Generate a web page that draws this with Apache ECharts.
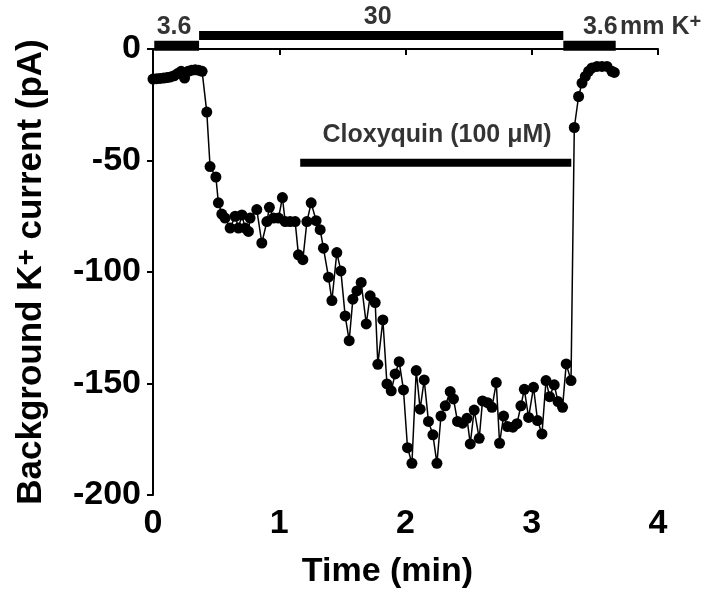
<!DOCTYPE html>
<html>
<head>
<meta charset="utf-8">
<script src="https://cdn.jsdelivr.net/npm/echarts@6/dist/echarts.min.js"></script>
<style>html,body{margin:0;padding:0;background:#fff}#c{width:709px;height:597px}</style>
</head>
<body>
<div id="c"></div>
<script>
// Time (min) and background K+ current (pA)
const timeMin = [0.000,0.029,0.056,0.084,0.112,0.139,0.167,0.195,0.223,0.250,0.278,0.306,0.334,0.361,0.389,
  0.426,0.452,0.498,0.518,0.545,0.571,0.611,0.651,0.677,0.704,0.730,0.756,0.769,0.822,0.862,0.902,0.922,0.954,0.994,
  1.025,1.047,1.086,1.126,1.152,1.187,1.219,1.253,1.292,1.324,1.350,1.390,1.417,1.456,1.488,1.522,1.554,1.583,1.615,
  1.649,1.689,1.720,1.760,1.781,1.821,1.853,1.887,1.918,1.950,1.984,2.016,2.051,2.085,2.116,2.148,2.182,2.217,2.249,
  2.281,2.315,2.354,2.380,2.412,2.452,2.487,2.513,2.544,2.584,2.610,2.650,2.685,2.719,2.745,2.777,2.808,2.851,2.883,
  2.914,2.941,2.975,3.014,3.046,3.081,3.113,3.141,3.178,3.208,3.244,3.273,3.311,3.337,3.371,3.398,3.424,3.450,3.477,
  3.517,3.556,3.596,3.635,3.654];
const currentPA = [-13.5,-13.3,-13.2,-13.0,-12.8,-12.5,-12.0,-11.0,-10.0,-13.0,-10.0,-9.5,-9.3,-9.5,-10.0,
  -28.3,-52.7,-57.4,-69.0,-74.0,-75.8,-80.3,-75.0,-80.3,-74.4,-80.3,-81.8,-75.8,-72.0,-87.0,-77.4,-71.0,-75.8,-75.8,
  -66.6,-77.4,-77.4,-77.4,-92.3,-94.5,-77.4,-69.0,-77.0,-81.0,-89.3,-102.3,-112.8,-91.3,-99.5,-119.7,-130.8,-112.2,-108.5,
  -104.7,-123.3,-110.7,-113.7,-141.4,-121.5,-150.2,-153.3,-145.7,-140.2,-152.9,-178.8,-185.8,-144.2,-161.5,-148.4,-167.0,-173.0,-185.8,
  -164.6,-160.0,-153.6,-156.9,-167.0,-167.8,-165.6,-177.1,-161.9,-174.6,-157.8,-158.6,-160.7,-149.6,-176.8,-164.6,-169.3,-169.6,-168.0,
  -160.0,-152.6,-165.2,-151.7,-166.6,-172.6,-148.7,-155.9,-150.6,-158.1,-160.7,-141.2,-148.7,-35.2,-21.3,-15.3,-12.3,-10.0,-8.5,
  -7.8,-7.8,-7.8,-10.0,-10.5];

// Solution application periods (min)
const kBarStarts = [0.01, 0.365, 3.25];
const kBarEnds   = [0.365, 3.25, 3.665];
const kBarLabels = ['3.6', '30', '3.6'];
const drugStart = 1.166, drugEnd = 3.313;
const drugLabel = 'Cloxyquin (100 \u03bcM)';

const xTickStep = 1, yTickStep = 50;

const FONT = 'Liberation Sans, Arial, sans-serif';
const chart = echarts.init(document.getElementById('c'), null, {renderer: 'canvas'});

const barLevels = [1.5, 6, 1.5];
const barWidths = [10, 9, 10];
const barSeries = kBarStarts.map((s, i) => ({
  type: 'line', clip: false, symbol: 'none', silent: true,
  data: [[s, barLevels[i]], [kBarEnds[i], barLevels[i]]],
  lineStyle: {color: '#000', width: barWidths[i], cap: 'butt'}
}));
barSeries.push({
  type: 'line', clip: false, symbol: 'none', silent: true,
  data: [[drugStart, -51], [drugEnd, -51]],
  lineStyle: {color: '#000', width: 8, cap: 'butt'}
});

const labelItems = [
  {value: [0.167, 10], name: kBarLabels[0]},
  {value: [1.78, 14.5], name: kBarLabels[1]},
  {value: [3.543, 10], name: kBarLabels[2]},
  {value: [2.25, -38.5], name: drugLabel}
];

chart.setOption({
  animation: false,
  backgroundColor: '#fff',
  grid: {left: 153, right: 51, top: 49, bottom: 102},
  xAxis: {
    type: 'value', min: 0, max: 4, interval: xTickStep,
    name: 'Time (min)', nameLocation: 'middle', nameGap: 60,
    nameTextStyle: {fontFamily: FONT, fontWeight: 'bold', fontSize: 34, color: '#000', padding: [0, 36, 0, 0]},
    axisLine: {lineStyle: {color: '#000', width: 2}},
    axisTick: {show: true, inside: false, length: 6, lineStyle: {color: '#000', width: 2}},
    axisLabel: {fontFamily: FONT, fontWeight: 'bold', fontSize: 34, color: '#000', margin: 12},
    splitLine: {show: false}
  },
  yAxis: {
    type: 'value', min: -200, max: 0, interval: yTickStep,
    name: '{a|Background K}{s|+}{a| current (pA)}', nameLocation: 'middle', nameGap: 104, nameRotate: 90,
    nameTextStyle: {
      rich: {
        a: {fontFamily: FONT, fontWeight: 'bold', fontSize: 35, color: '#000', lineHeight: 36},
        s: {fontFamily: FONT, fontWeight: 'bold', fontSize: 28, color: '#000', verticalAlign: 'top', lineHeight: 20}
      }
    },
    axisLine: {show: true, lineStyle: {color: '#000', width: 2}},
    axisTick: {show: true, inside: false, length: 6, lineStyle: {color: '#000', width: 2}},
    axisLabel: {fontFamily: FONT, fontWeight: 'bold', fontSize: 34, color: '#000', margin: 12},
    splitLine: {show: false}
  },
  series: [
    {
      type: 'line', clip: false, silent: true,
      data: timeMin.map((t, i) => [t, currentPA[i]]),
      symbol: 'circle', symbolSize: 11, showAllSymbol: true,
      itemStyle: {color: '#000'},
      lineStyle: {color: '#000', width: 1.5}
    },
    ...barSeries,
    {
      type: 'scatter', clip: false, silent: true, symbolSize: 1,
      itemStyle: {color: 'rgba(0,0,0,0)'},
      data: labelItems,
      label: {show: true, position: 'inside', formatter: '{b}', fontFamily: FONT, fontWeight: 'bold', fontSize: 25, color: '#000'}
    },
    {
      type: 'scatter', clip: false, silent: true, symbolSize: 1,
      itemStyle: {color: 'rgba(0,0,0,0)'},
      data: [{value: [3.695, 10], name: 'mm K'}],
      label: {
        show: true, position: 'right', distance: 0, formatter: '{a|mm K}{s|+}',
        rich: {
          a: {fontFamily: FONT, fontWeight: 'bold', fontSize: 25, color: '#000', lineHeight: 28},
          s: {fontFamily: FONT, fontWeight: 'bold', fontSize: 20, color: '#000', verticalAlign: 'top', lineHeight: 14}
        }
      }
    }
  ]
});
</script>
</body>
</html>
